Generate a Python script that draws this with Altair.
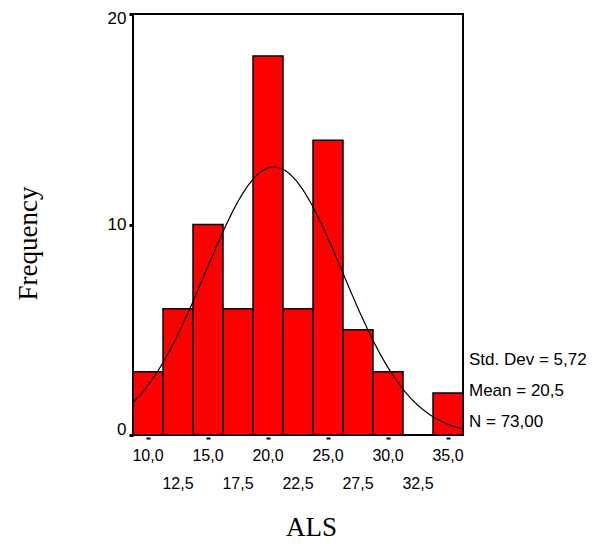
import altair as alt
import numpy as np
import pandas as pd

# ---- data ----
bin_centers = [10.0, 12.5, 15.0, 17.5, 20.0, 22.5, 25.0, 27.5, 30.0, 32.5, 35.0]
counts = [3, 6, 10, 6, 18, 6, 14, 5, 3, 0, 2]
BIN_WIDTH = 2.5

# summary statistics printed on the chart (used for the fitted normal curve)
MEAN = 20.5
SD = 5.72
N = 73

y_tick_values = [0, 10, 20]
row1_values = [10.0, 15.0, 20.0, 25.0, 30.0, 35.0]
row1_labels = ["10,0", "15,0", "20,0", "25,0", "30,0", "35,0"]
row2_values = [12.5, 17.5, 22.5, 27.5, 32.5]
row2_labels = ["12,5", "17,5", "22,5", "27,5", "32,5"]
stats_lines = ["Std. Dev = 5,72", "Mean = 20,5", "N = 73,00"]

# ---- tables ----
bars_df = pd.DataFrame({"center": bin_centers, "count": counts})
x_lo = bin_centers[0] - BIN_WIDTH / 2
x_hi = bin_centers[-1] + BIN_WIDTH / 2

xs_curve = np.linspace(x_lo, x_hi, 200)
ys_curve = N * BIN_WIDTH / (SD * np.sqrt(2 * np.pi)) * np.exp(-0.5 * ((xs_curve - MEAN) / SD) ** 2)
curve_df = pd.DataFrame({"x": xs_curve, "y": ys_curve})

row1_df = pd.DataFrame({"v": row1_values, "label": row1_labels})
row2_df = pd.DataFrame({"v": row2_values, "label": row2_labels})

x_scale = alt.Scale(domain=[x_lo, x_hi], nice=False, zero=False)
y_scale = alt.Scale(domain=[0, 20], nice=False)

W, H = 330, 421

bars = alt.Chart(bars_df).transform_calculate(
    x0=f"datum.center - {BIN_WIDTH / 2}",
    x1=f"datum.center + {BIN_WIDTH / 2}",
    base="0",
).mark_bar(color="#ff0000", stroke="black", strokeWidth=1.5).encode(
    x=alt.X(
        "x0:Q",
        scale=x_scale,
        axis=alt.Axis(
            values=bin_centers,
            labels=False,
            domain=False,
            grid=False,
            ticks=True,
            tickSize=2,
            tickWidth=4,
            tickColor="black",
            offset=2,
            title="ALS",
            titleFont="Liberation Serif",
            titleFontSize=27,
            titleFontWeight="normal",
            titleColor="black",
            titleX=178,
            titleY=90,
            titleAlign="center",
            titleBaseline="middle",
        ),
    ),
    x2="x1:Q",
    y=alt.Y(
        "count:Q",
        scale=y_scale,
        axis=alt.Axis(
            values=y_tick_values,
            domain=False,
            grid=False,
            tickSize=4,
            tickWidth=3,
            tickColor="black",
            labelFont="Liberation Sans",
            labelFontSize=17,
            labelColor="black",
            labelPadding=3,
            labelOffset={
                "condition": [
                    {"test": "datum.value == 20", "value": 4},
                    {"test": "datum.value == 0", "value": -6},
                ],
                "value": 0,
            },
            title="Frequency",
            titleFont="Liberation Serif",
            titleFontSize=27,
            titleFontWeight="normal",
            titleColor="black",
            titleX=-105,
            titleY=229,
            titleAlign="center",
            titleBaseline="middle",
        ),
    ),
    y2="base:Q",
)

curve = alt.Chart(curve_df).mark_line(color="black", strokeWidth=1.2).encode(
    x=alt.X("x:Q", scale=x_scale),
    y=alt.Y("y:Q", scale=y_scale),
)

lab1 = alt.Chart(row1_df).mark_text(
    font="Liberation Sans", fontSize=16, color="black", align="center", baseline="middle"
).encode(x=alt.X("v:Q", scale=x_scale), y=alt.value(442), text="label:N")

lab2 = alt.Chart(row2_df).mark_text(
    font="Liberation Sans", fontSize=16, color="black", align="center", baseline="middle"
).encode(x=alt.X("v:Q", scale=x_scale), y=alt.value(470), text="label:N")

layers = [bars, curve, lab1, lab2]
for i, line in enumerate(stats_lines):
    layers.append(
        alt.Chart(pd.DataFrame({"t": [line]})).mark_text(
            font="Liberation Sans", fontSize=17, color="black", align="left", baseline="middle"
        ).encode(x=alt.value(336), y=alt.value(346 + i * 31), text="t:N")
    )

chart = alt.layer(*layers).properties(
    width=W,
    height=H,
    autosize=alt.AutoSizeParams(type="none"),
    padding={"left": 125, "top": 6, "right": 127, "bottom": 107},
).configure(
    background="white",
    view=alt.ViewConfig(stroke="black", strokeWidth=2),
)

chart.save("out.html", embed_options={"renderer": "svg", "actions": False})
